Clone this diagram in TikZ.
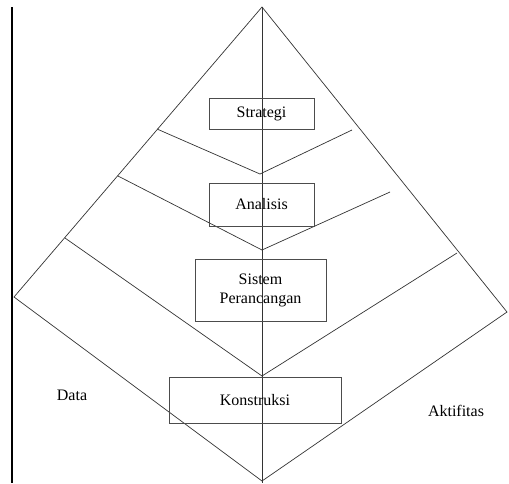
\documentclass[tikz,border=0pt]{standalone}
\usepackage{fontspec}
\setmainfont{Liberation Serif}
\tikzset{
  box/.style={draw=black!70,line width=0.7pt,inner sep=0pt,align=center,
    font=\fontsize{16}{19}\selectfont},
  lbl/.style={font=\fontsize{16}{19}\selectfont}
}
\begin{document}
\begin{tikzpicture}[x=1pt,y=-1pt,line width=0.7pt,draw=black!80]
\useasboundingbox (0,0) rectangle (509,483);
\coordinate (top) at (262,7);
\coordinate (left) at (14,297);
\coordinate (bottom) at (262,481);
\coordinate (right) at (507,312);
\draw[line width=1.8pt,black] (12,7) -- (12,483);
\draw (top) -- (left) -- (bottom) -- (right) -- cycle;
\draw (157,129) -- (260,174) -- (352,130);
\draw (118,176) -- (262,250) -- (390,192);
\draw (65,238) -- (262,376) -- (457,253);
\draw (top) -- (262,483);
\node[box,minimum width=105pt,minimum height=31pt] (strategi) at (261.5,113.5) {Strategi};
\node[box,minimum width=105pt,minimum height=43pt] (analisis) at (261.5,204.5) {Analisis};
\node[box,minimum width=131pt,minimum height=62pt] (sistem) at (260.5,290) {Sistem\\Perancangan};
\node[box,minimum width=172pt,minimum height=46pt] (konstruksi) at (255,400) {Konstruksi};
\node[lbl] (data) at (72,395) {Data};
\node[lbl] (aktifitas) at (456,411) {Aktifitas};
\end{tikzpicture}
\end{document}
